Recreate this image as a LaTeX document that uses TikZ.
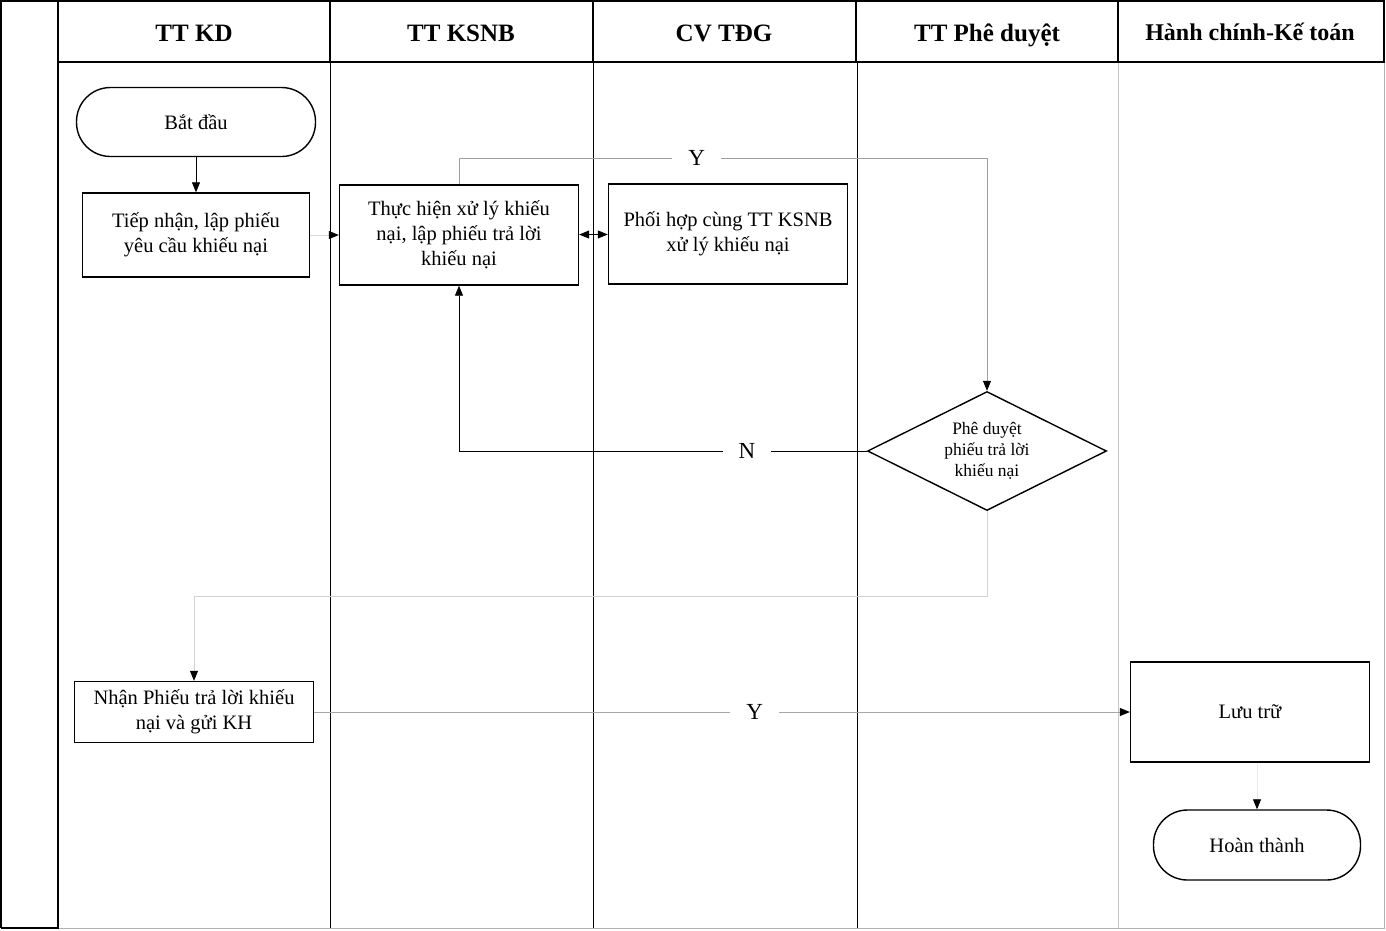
\documentclass[tikz,border=0pt]{standalone}
\usepackage{fontspec}
\setmainfont{Liberation Serif}
\usetikzlibrary{arrows.meta,shapes.geometric}
\tikzset{
	process/.style={draw, line width=1.4pt, align=center, inner sep=0pt,
			font=\fontsize{20.5}{25}\selectfont},
	terminal/.style={process, rounded corners=34pt},
	decision/.style={diamond, aspect=2, draw, line width=1.4pt, align=center, inner sep=0pt,
			minimum width=239pt, minimum height=119pt,
			font=\fontsize{17.5}{21}\selectfont},
	header/.style={anchor=base, font=\fontsize{25}{30}\selectfont\bfseries},
	flow/.style={line width=0.8pt, -{Triangle[length=10pt,width=8pt,color=black]}},
	tag/.style={fill=white, inner xsep=16pt, inner ysep=2pt,
			font=\fontsize{23}{27}\selectfont}
}

\begin{document}
\begin{tikzpicture}[x=1pt, y=-1pt]
	\useasboundingbox (0,0) rectangle (1386,930);
	% frame and lanes
	\draw[gray!60, line width=1pt] (58,62) rectangle (1384,928);
	\draw[gray!45, line width=1pt] (1118,62) -- (1118,928);
	\foreach \lx in {330,593,857}
		\draw[line width=1pt] (\lx,62) -- (\lx,928);
	\draw[line width=2pt] (1,928) -- (1,1) -- (1384,1) -- (1384,62) -- (58,62);
	\draw[line width=2pt] (58,1) -- (58,928) -- (1,928);
	\foreach \lx in {330,593,856,1118}
		\draw[line width=1.5pt] (\lx,1) -- (\lx,62);

	\node[header] (kd) at (194,41) {TT KD};
	\node[header] (ksnb) at (461,41) {TT KSNB};
	\node[header] (tdg) at (724,41) {CV TĐG};
	\node[header] (pd) at (987,41) {TT Phê duyệt};
	\node[header, font=\fontsize{24}{28}\selectfont\bfseries] (hckt) at (1250,40) {Hành chính-Kế toán};

	\node[terminal, minimum width=239pt, minimum height=69pt] (start) at (196,122) {Bắt đầu};
	\node[process, minimum width=227pt, minimum height=84pt] (receive) at (196,235) {Tiếp nhận, lập phiếu\\yêu cầu khiếu nại};
	\node[process, minimum width=239pt, minimum height=100pt] (handle) at (459,235) {Thực hiện xử lý khiếu\\nại, lập phiếu trả lời\\khiếu nại};
	\node[process, minimum width=239pt, minimum height=100pt] (coop) at (728,234) {Phối hợp cùng TT KSNB\\xử lý khiếu nại};
	\node[decision] (check) at (987,451) {Phê duyệt\\phiếu trả lời\\khiếu nại};
	\node[process, minimum width=239pt, minimum height=61pt] (notify) at (194,712) {Nhận Phiếu trả lời khiếu\\nại và gửi KH};
	\node[process, minimum width=239pt, minimum height=100pt] (archive) at (1250,712) {Lưu trữ};
	\node[terminal, minimum width=207pt, minimum height=70pt] (finish) at (1257,845) {Hoàn thành};

	\coordinate (yTurn) at (987,158);
	\coordinate (backTurn) at (194,596);

	\draw[flow] (start) -- (receive);
	\draw[flow, draw=gray!30] (receive) -- (handle);
	\draw[flow, {Triangle[length=10pt,width=8pt]}-{Triangle[length=10pt,width=8pt]}] (handle) -- (coop);
	\draw[flow, draw=gray!75] (handle.north) |- node[tag, pos=0.725] {Y} (yTurn) -- (check.north);
	\draw[flow] (check.west) -| node[tag, pos=0.147] {N} (handle.south);
	\draw[flow, draw=gray!35] (check.south) |- (backTurn) -- (notify.north);
	\draw[flow, draw=gray!70] (notify) -- node[tag, pos=0.54] {Y} (archive);
	\draw[flow, draw=gray!15] (finish.north |- archive.south) -- (finish.north);
\end{tikzpicture}
\end{document}
